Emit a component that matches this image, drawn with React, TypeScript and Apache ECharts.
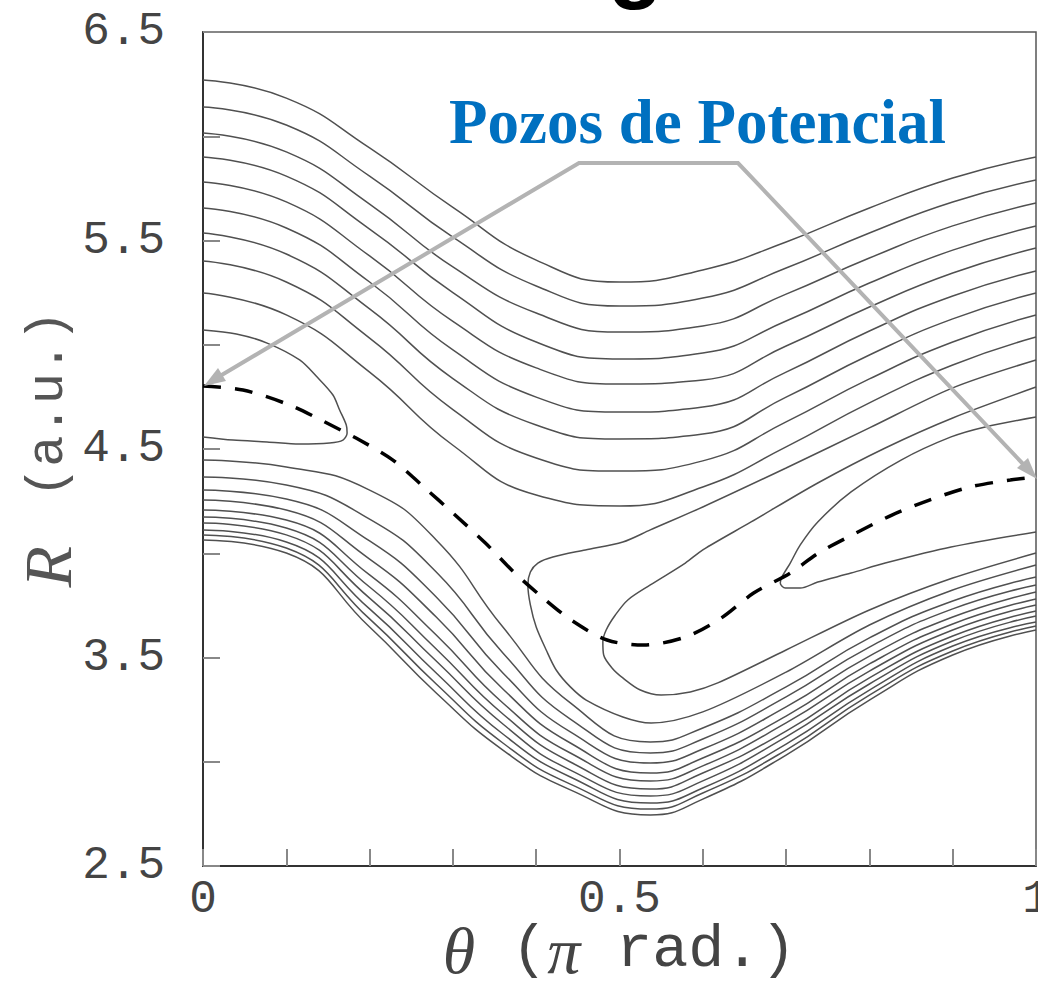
import React, { useEffect, useRef } from 'react';
import * as echarts from 'echarts';

// ---- tick labels ----
const xTickLabels = ['0', '0.5', '1'];
const yTickLabels = ['2.5', '3.5', '4.5', '5.5', '6.5'];

// ---- upper family of contours (R values at the θ columns below) ----
const upperCols = [0, 0.1, 0.2, 0.3, 0.4, 0.5, 0.6, 0.7, 0.8, 0.9, 1];
const upper1 = [6.270, 6.183, 5.944, 5.659, 5.406, 5.301, 5.359, 5.493, 5.656, 5.800, 5.901];
const upper2 = [6.140, 6.054, 5.809, 5.516, 5.282, 5.186, 5.224, 5.368, 5.536, 5.685, 5.790];
const upper3 = [6.016, 5.925, 5.675, 5.373, 5.152, 5.061, 5.090, 5.243, 5.416, 5.570, 5.680];
const upper4 = [5.901, 5.809, 5.555, 5.250, 5.013, 4.932, 4.960, 5.114, 5.296, 5.454, 5.570];
const upper5 = [5.781, 5.685, 5.426, 5.112, 4.889, 4.812, 4.831, 4.994, 5.181, 5.344, 5.464];
const upper6 = [5.656, 5.560, 5.301, 4.975, 4.749, 4.677, 4.701, 4.869, 5.066, 5.234, 5.354];
const upper7 = [5.536, 5.435, 5.172, 4.838, 4.615, 4.548, 4.572, 4.749, 4.951, 5.124, 5.248];
const upper8 = [5.402, 5.301, 5.032, 4.689, 4.457, 4.394, 4.443, 4.630, 4.836, 5.013, 5.143];
const upper9 = [5.248, 5.143, 4.869, 4.518, 4.279, 4.227, 4.318, 4.510, 4.721, 4.903, 5.037];

// ---- lower family of contours ----
const lowerCols = [0, 0.1, 0.2, 0.28, 0.36, 0.441, 0.537, 0.6, 0.7, 0.8, 0.9, 1];
const lower1 = [4.447, 4.414, 4.303, 4.064, 3.646, 3.282, 3.095, 3.162, 3.359, 3.594, 3.771, 3.886];
const lower2 = [4.366, 4.327, 4.164, 3.910, 3.522, 3.205, 3.042, 3.109, 3.311, 3.550, 3.733, 3.848];
const lower3 = [4.303, 4.260, 4.059, 3.790, 3.426, 3.143, 2.994, 3.061, 3.263, 3.507, 3.694, 3.814];
const lower4 = [4.255, 4.207, 3.972, 3.694, 3.349, 3.090, 2.946, 3.018, 3.219, 3.469, 3.661, 3.781];
const lower5 = [4.207, 4.159, 3.896, 3.608, 3.282, 3.042, 2.908, 2.980, 3.186, 3.435, 3.632, 3.752];
const lower6 = [4.174, 4.121, 3.838, 3.541, 3.229, 2.999, 2.869, 2.946, 3.147, 3.402, 3.603, 3.723];
const lower7 = [4.145, 4.088, 3.785, 3.483, 3.181, 2.960, 2.836, 2.908, 3.119, 3.373, 3.579, 3.699];
const lower8 = [4.112, 4.054, 3.733, 3.426, 3.133, 2.927, 2.802, 2.874, 3.085, 3.344, 3.555, 3.670];
const lower9 = [4.088, 4.025, 3.685, 3.373, 3.090, 2.893, 2.773, 2.850, 3.056, 3.320, 3.531, 3.651];
const lower10 = [4.064, 4.001, 3.646, 3.330, 3.056, 2.865, 2.745, 2.821, 3.032, 3.296, 3.512, 3.632];

// ---- special contours [θ, R] ----
const leftWell = [
  [0, 5.071], [0.040, 5.052], [0.077, 5.008], [0.116, 4.927], [0.137, 4.845], [0.156, 4.759],
  [0.164, 4.687], [0.172, 4.615], [0.173, 4.577], [0.168, 4.543], [0.152, 4.529], [0.116, 4.524],
  [0.077, 4.534], [0.036, 4.543], [0, 4.558],
];
const saddleCurve = [
  [1, 4.927], [0.9, 4.793], [0.8, 4.601], [0.7, 4.409], [0.6, 4.222], [0.537, 4.112], [0.504, 4.054],
  [0.459, 4.016], [0.420, 3.982], [0.402, 3.953], [0.393, 3.910], [0.390, 3.848], [0.393, 3.752],
  [0.400, 3.646], [0.412, 3.536], [0.424, 3.440], [0.441, 3.359], [0.460, 3.296], [0.504, 3.215],
  [0.538, 3.186], [0.6, 3.239], [0.7, 3.430], [0.8, 3.656], [0.9, 3.824], [1, 3.944],
];
const middleWell = [
  [1, 4.797], [0.9, 4.649], [0.819, 4.505], [0.738, 4.337], [0.658, 4.150], [0.6, 4.016], [0.579, 3.953],
  [0.537, 3.848], [0.510, 3.776], [0.495, 3.704], [0.484, 3.632], [0.480, 3.574], [0.481, 3.512],
  [0.491, 3.450], [0.504, 3.402], [0.525, 3.344], [0.550, 3.320], [0.585, 3.335], [0.618, 3.378],
  [0.7, 3.536], [0.8, 3.728], [0.9, 3.881], [1, 4.001],
];
const rightWell = [
  [1, 4.653], [0.939, 4.606], [0.898, 4.558], [0.838, 4.447], [0.778, 4.294], [0.738, 4.150],
  [0.717, 4.040], [0.705, 3.953], [0.695, 3.886], [0.693, 3.857], [0.699, 3.833], [0.717, 3.833],
  [0.738, 3.862], [0.778, 3.905], [0.819, 3.953], [0.898, 4.030], [1, 4.102],
];
// minimum energy path (dashed)
const minPath = [
  [0, 4.802], [0.048, 4.783], [0.104, 4.711], [0.144, 4.634], [0.188, 4.543], [0.228, 4.447],
  [0.265, 4.318], [0.300, 4.193], [0.339, 4.049], [0.373, 3.910], [0.407, 3.790], [0.442, 3.680],
  [0.485, 3.584], [0.529, 3.560], [0.579, 3.598], [0.622, 3.689], [0.661, 3.809], [0.705, 3.905],
  [0.739, 4.001], [0.784, 4.097], [0.827, 4.183], [0.872, 4.255], [0.921, 4.318], [0.969, 4.351],
  [1, 4.366],
];

const annotationText = 'Pozos de Potencial';

const upperFamily = [upper1, upper2, upper3, upper4, upper5, upper6, upper7, upper8, upper9];
const lowerFamily = [lower1, lower2, lower3, lower4, lower5, lower6, lower7, lower8, lower9, lower10];

const CONTOUR = '#505050';
const ARROW = '#b3b3b3';

function contourSeries(data: number[][], smooth: number) {
  return {
    type: 'line',
    data,
    smooth,
    symbol: 'none',
    silent: true,
    lineStyle: { color: CONTOUR, width: 1.5 },
    z: 2,
  };
}

export default function App() {
  const ref = useRef<HTMLDivElement>(null);

  useEffect(() => {
    if (!ref.current) return;
    const chart = echarts.init(ref.current, null, { renderer: 'svg' });

    const series: any[] = [];
    upperFamily.forEach((vals) => series.push(contourSeries(upperCols.map((x, i) => [x, vals[i]]), 0.5)));
    lowerFamily.forEach((vals) => series.push(contourSeries(lowerCols.map((x, i) => [x, vals[i]]), 0.5)));
    [leftWell, saddleCurve, middleWell, rightWell].forEach((d) => series.push(contourSeries(d, 0.3)));
    series.push({
      type: 'line',
      data: minPath,
      smooth: 0.3,
      symbol: 'none',
      silent: true,
      lineStyle: { color: '#000', width: 3.5, type: [18, 14] },
      z: 3,
    });

    const mono = '"Liberation Mono", "DejaVu Sans Mono", monospace';
    const serifItalic = '"Liberation Serif", serif';

    const option: any = {
      animation: false,
      backgroundColor: '#fff',
      grid: {
        left: 203,
        right: 2,
        top: 32,
        bottom: 124,
        show: true,
        borderColor: '#555',
        borderWidth: 1.5,
        containLabel: false,
        outerBoundsMode: 'none',
      },
      xAxis: {
        type: 'value',
        min: 0,
        max: 1,
        interval: 0.1,
        splitLine: { show: false },
        axisLine: { show: true, onZero: false, lineStyle: { color: '#333', width: 2 } },
        axisTick: { show: true, inside: true, length: 17, lineStyle: { color: '#888', width: 2 } },
        axisLabel: {
          margin: 16,
          fontFamily: mono,
          fontSize: 46,
          lineHeight: 36,
          color: '#444',
          formatter: (v: number) => {
            const s = String(Number(v.toFixed(2)));
            return xTickLabels.includes(s) ? s : '';
          },
        },
        name: '{i|θ} ({i|π} rad.)',
        nameLocation: 'middle',
        nameGap: 51,
        nameMoveOverlap: false,
        nameTextStyle: {
          fontFamily: mono,
          fontSize: 60,
          color: '#444',
          rich: {
            i: { fontFamily: serifItalic, fontStyle: 'italic', fontSize: 66, color: '#444' },
          },
        },
      },
      yAxis: {
        type: 'value',
        min: 2.5,
        max: 6.5,
        interval: 0.5,
        splitLine: { show: false },
        axisLine: { show: true, onZero: false, lineStyle: { color: '#333', width: 2 } },
        axisTick: { show: true, inside: true, length: 17, lineStyle: { color: '#888', width: 2 } },
        axisLabel: {
          margin: 38,
          fontFamily: mono,
          fontSize: 46,
          color: '#444',
          formatter: (v: number) => {
            const s = v.toFixed(1);
            return yTickLabels.includes(s) ? s : '';
          },
        },
        name: '{i|R}{s| }(a.u.)',
        nameLocation: 'middle',
        nameRotate: 90,
        nameGap: 115,
        nameMoveOverlap: false,
        nameTextStyle: {
          fontFamily: mono,
          fontSize: 52,
          color: '#555',
          rich: {
            i: { fontFamily: serifItalic, fontStyle: 'italic', fontSize: 68, color: '#555' },
            s: { fontFamily: mono, fontSize: 80, color: '#555' },
          },
        },
      },
      series,
      graphic: [
        {
          type: 'polyline',
          z: 100,
          silent: true,
          shape: { points: [[220, 376], [579, 163], [738, 163], [1024, 465]] },
          style: { stroke: ARROW, lineWidth: 4, fill: null },
        },
        {
          type: 'polygon',
          z: 100,
          silent: true,
          shape: { points: [[204, 386], [226, 381], [218, 368]] },
          style: { fill: ARROW },
        },
        {
          type: 'polygon',
          z: 100,
          silent: true,
          shape: { points: [[1037, 479], [1017, 468], [1028, 458]] },
          style: { fill: ARROW },
        },
        {
          type: 'text',
          z: 101,
          x: 449,
          y: 122,
          style: {
            text: annotationText,
            fill: '#0070C0',
            font: 'bold 63px "Liberation Serif", serif',
            align: 'left',
            verticalAlign: 'middle',
          },
        },
        {
          type: 'text',
          z: 101,
          x: 608,
          y: -40,
          style: {
            text: 'g',
            fill: '#000',
            font: 'bold 90px "Liberation Sans", sans-serif',
            align: 'left',
            verticalAlign: 'middle',
          },
        },
      ],
    };

    chart.setOption(option);
    return () => chart.dispose();
  }, []);

  return (
    <div
      ref={ref}
      style={{ position: 'fixed', left: 0, top: 0, width: 1038, height: 990, background: '#fff' }}
    />
  );
}
